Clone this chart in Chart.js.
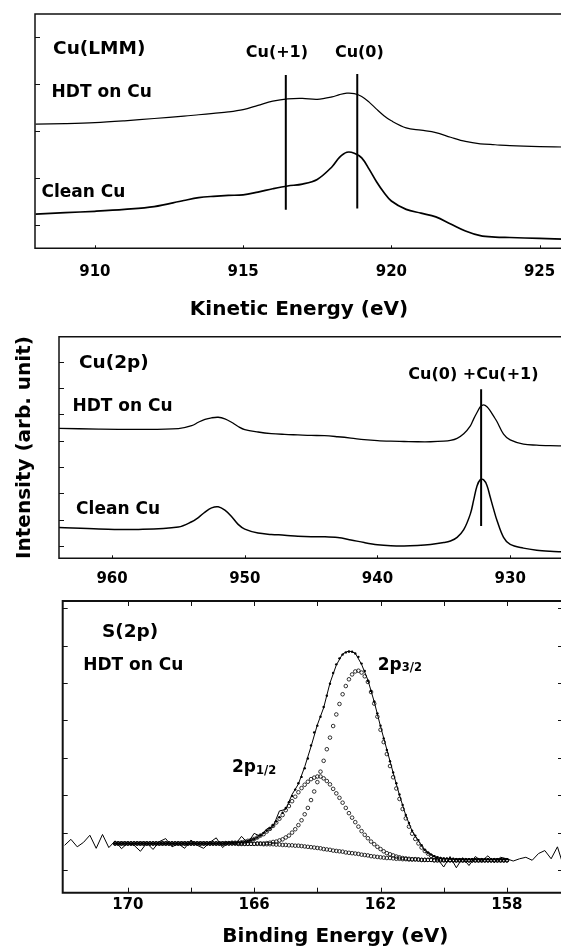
<!DOCTYPE html>
<html><head><meta charset="utf-8">
<script src="https://cdn.jsdelivr.net/npm/chart.js@4.4.1/dist/chart.umd.min.js"></script>
<style>
html,body{margin:0;padding:0;background:#fff;overflow:hidden;width:561px;height:952px;}
#wrap{position:relative;width:561px;height:952px;overflow:hidden;background:#fff;}
canvas{position:absolute;left:0;}
</style></head><body>
<div id="wrap">
<canvas id="c1" width="575" height="325" style="top:0px"></canvas>
<canvas id="c2" width="575" height="275" style="top:325px"></canvas>
<canvas id="c3" width="620" height="362" style="top:590px"></canvas>
</div>
<script>
// ---------- Panel 1 : Cu(LMM) ----------
const p1Energy = [908, 909, 910, 911, 912, 913, 913.5, 914, 914.5, 915, 915.5, 916, 916.5, 917, 917.5, 918, 918.25, 918.5, 918.75, 919, 919.25, 919.5, 919.75, 920, 920.5, 921, 921.5, 922, 922.5, 923, 923.5, 924, 925, 926];
const p1Hdt = [2.15, 2.16, 2.18, 2.22, 2.27, 2.32, 2.35, 2.38, 2.41, 2.46, 2.55, 2.64, 2.69, 2.70, 2.68, 2.73, 2.78, 2.81, 2.80, 2.74, 2.62, 2.47, 2.33, 2.22, 2.07, 2.02, 1.97, 1.87, 1.78, 1.73, 1.71, 1.69, 1.67, 1.66];
const p1Clean = [0.23, 0.26, 0.29, 0.33, 0.39, 0.52, 0.58, 0.61, 0.63, 0.64, 0.70, 0.77, 0.83, 0.87, 0.97, 1.24, 1.44, 1.55, 1.53, 1.43, 1.19, 0.92, 0.69, 0.51, 0.33, 0.25, 0.17, 0.02, -0.13, -0.23, -0.26, -0.27, -0.29, -0.31];
const p1MarkerEnergy = [916.44, 918.85];
const p1MarkerLow = [0.32, 0.35];
const p1MarkerHigh = [3.20, 3.22];
const p1XTicks = [910, 915, 920, 925];
const p1YTicks = [0, 1, 2, 3, 4];

// ---------- Panel 2 : Cu(2p) ----------
const p2Energy = [964, 961, 958, 955, 954, 953.5, 953, 952.5, 952, 951.5, 951, 950.5, 950, 949, 948, 947, 946, 945, 944, 943, 942, 941, 940, 939, 938, 937, 936, 935, 934.5, 934, 933.5, 933, 932.75, 932.5, 932.25, 932, 931.75, 931.5, 931.25, 931, 930.5, 930, 929, 928, 927, 926];
const p2Hdt = [4.47, 4.44, 4.43, 4.46, 4.57, 4.70, 4.81, 4.87, 4.89, 4.83, 4.70, 4.54, 4.42, 4.33, 4.27, 4.24, 4.22, 4.20, 4.19, 4.15, 4.10, 4.04, 4.00, 3.98, 3.97, 3.96, 3.96, 3.98, 4.01, 4.09, 4.26, 4.56, 4.83, 5.07, 5.29, 5.36, 5.29, 5.13, 4.93, 4.73, 4.25, 4.03, 3.87, 3.83, 3.81, 3.80];
const p2Clean = [0.70, 0.65, 0.63, 0.72, 0.92, 1.08, 1.29, 1.45, 1.49, 1.36, 1.12, 0.82, 0.64, 0.49, 0.44, 0.41, 0.37, 0.35, 0.35, 0.32, 0.23, 0.13, 0.05, 0.01, 0.00, 0.02, 0.06, 0.13, 0.19, 0.33, 0.62, 1.22, 1.75, 2.28, 2.52, 2.51, 2.30, 1.85, 1.40, 0.98, 0.33, 0.06, -0.08, -0.16, -0.20, -0.22];
const p2MarkerEnergy = [932.19];
const p2MarkerLow = [0.76];
const p2MarkerHigh = [5.95];
const p2XTicks = [960, 950, 940, 930];
const p2YTicks = [0, 1, 2, 3, 4, 5, 6, 7];

// ---------- Panel 3 : S(2p) ----------
const p3RawEnergy = [172.0,171.8,171.6,171.4,171.2,171.0,170.8,170.6,170.4,170.2,170.0,169.8,169.6,169.4,169.2,169.0,168.8,168.6,168.4,168.2,168.0,167.8,167.6,167.4,167.2,167.0,
  166.8,166.6,166.4,166.2,166.0,165.8,165.6,165.4,165.2,165.0,164.8,164.6,164.4,164.2,164.0,163.8,163.6,163.4,163.2,163.0,162.8,162.6,162.4,162.2,162.0,161.8,161.6,161.4,161.2,161.0,160.8,160.6,160.4,160.2,160.0,
  159.8,159.6,159.4,159.2,159.0,158.8,158.6,158.4,158.2,158.0,157.8,157.6,157.4,157.2,157.0,156.8,156.6,156.4,156.2,156.0,155.8,155.6,155.4,155.2,155.0];
const p3Raw = [0.66,0.82,0.62,0.74,0.93,0.58,0.95,0.60,0.78,0.57,0.72,0.66,0.50,0.72,0.55,0.76,0.84,0.62,0.70,0.58,0.80,0.66,0.58,0.74,0.86,0.60,
  0.75,0.68,0.90,0.72,0.98,0.90,1.10,1.16,1.58,1.62,2.02,2.30,2.76,3.30,3.88,4.34,5.00,5.48,5.78,5.86,5.80,5.50,5.08,4.50,3.84,3.22,2.60,2.00,1.46,1.04,0.78,0.52,0.42,0.30,0.08,
  0.36,0.06,0.33,0.12,0.36,0.24,0.38,0.20,0.34,0.30,0.24,0.30,0.34,0.26,0.44,0.52,0.30,0.62,0.08,0.55,0.45,0.50,0.40,0.48,0.42];
const p3FitEnergy = [170.4,170.3,170.2,170.1,170.0,169.9,169.8,169.7,169.6,169.5,169.4,169.3,169.2,169.1,169.0,168.9,168.8,168.7,168.6,168.5,168.4,168.3,168.2,168.1,168.0,167.9,167.8,167.7,167.6,167.5,167.4,167.3,167.2,167.1,167.0,
  166.9,166.8,166.7,166.6,166.5,166.4,166.3,166.2,166.1,166.0,165.9,165.8,165.7,165.6,165.5,165.4,165.3,165.2,165.1,165.0,164.9,164.8,164.7,164.6,164.5,164.4,164.3,164.2,164.1,164.0,
  163.9,163.8,163.7,163.6,163.5,163.4,163.3,163.2,163.1,163.0,162.9,162.8,162.7,162.6,162.5,162.4,162.3,162.2,162.1,162.0,161.9,161.8,161.7,161.6,161.5,161.4,161.3,161.2,161.1,161.0,
  160.9,160.8,160.7,160.6,160.5,160.4,160.3,160.2,160.1,160.0,159.9,159.8,159.7,159.6,159.5,159.4,159.3,159.2,159.1,159.0,158.9,158.8,158.7,158.6,158.5,158.4,158.3,158.2,158.1,158.0];
const p3Envelope = [0.71,0.71,0.71,0.71,0.71,0.71,0.71,0.71,0.71,0.71,0.71,0.71,0.71,0.71,0.71,0.71,0.71,0.71,0.71,0.71,0.71,0.71,0.71,0.71,0.71,0.71,0.71,0.71,0.71,0.71,0.71,0.71,0.71,0.71,0.71,
  0.72,0.72,0.73,0.73,0.74,0.75,0.76,0.78,0.80,0.83,0.87,0.93,0.99,1.05,1.11,1.20,1.30,1.41,1.53,1.66,1.81,1.98,2.15,2.32,2.49,2.72,2.98,3.33,3.68,3.86,
  4.10,4.36,4.66,4.98,5.27,5.50,5.66,5.76,5.82,5.84,5.84,5.79,5.70,5.52,5.32,5.06,4.79,4.51,4.19,3.86,3.52,3.21,2.91,2.61,2.32,2.02,1.74,1.47,1.26,1.05,
  0.92,0.80,0.66,0.54,0.46,0.41,0.37,0.34,0.32,0.31,0.31,0.30,0.30,0.29,0.29,0.29,0.29,0.29,0.29,0.29,0.29,0.29,0.29,0.29,0.29,0.29,0.29,0.29,0.29,0.29];
const p3Comp32 = [0.71,0.71,0.71,0.71,0.71,0.71,0.71,0.71,0.71,0.71,0.71,0.71,0.71,0.71,0.71,0.71,0.71,0.71,0.71,0.71,0.71,0.71,0.71,0.71,0.71,0.71,0.71,0.71,0.71,0.71,0.71,0.71,0.71,0.71,0.71,
  0.71,0.71,0.71,0.71,0.70,0.70,0.70,0.70,0.70,0.70,0.71,0.71,0.71,0.72,0.73,0.75,0.76,0.79,0.82,0.87,0.92,1.00,1.09,1.20,1.33,1.49,1.66,1.87,2.10,2.35,
  2.63,2.92,3.23,3.54,3.85,4.16,4.44,4.70,4.92,5.10,5.23,5.31,5.33,5.28,5.18,5.03,4.76,4.45,4.10,3.75,3.42,3.10,2.78,2.48,2.18,1.90,1.63,1.38,1.16,0.97,
  0.83,0.71,0.60,0.51,0.44,0.38,0.34,0.31,0.29,0.28,0.27,0.27,0.26,0.26,0.26,0.26,0.26,0.26,0.26,0.26,0.26,0.26,0.26,0.26,0.26,0.26,0.26,0.26,0.26,0.26];
const p3Comp12 = [0.71,0.71,0.71,0.71,0.71,0.71,0.71,0.71,0.71,0.71,0.71,0.71,0.71,0.71,0.71,0.71,0.71,0.71,0.71,0.71,0.71,0.71,0.71,0.71,0.71,0.71,0.71,0.71,0.71,0.71,0.71,0.71,0.71,0.71,0.71,
  0.72,0.72,0.73,0.73,0.73,0.74,0.76,0.78,0.80,0.83,0.87,0.92,0.96,1.03,1.10,1.18,1.27,1.37,1.47,1.60,1.71,1.84,1.96,2.08,2.19,2.28,2.36,2.43,2.47,2.50,
  2.50,2.45,2.38,2.29,2.17,2.05,1.93,1.80,1.66,1.52,1.40,1.28,1.16,1.04,0.94,0.85,0.76,0.69,0.62,0.56,0.50,0.45,0.42,0.39,0.36,0.34,0.32,0.31,0.30,0.29,
  0.29,0.28,0.27,0.27,0.27,0.27,0.26,0.26,0.26,0.26,0.26,0.26,0.26,0.26,0.26,0.26,0.26,0.26,0.26,0.26,0.26,0.26,0.26,0.26,0.26,0.26,0.26,0.26,0.26,0.26];
const p3Background = [0.71,0.71,0.71,0.71,0.71,0.71,0.71,0.71,0.71,0.71,0.71,0.71,0.71,0.71,0.71,0.71,0.71,0.71,0.71,0.71,0.71,0.71,0.71,0.71,0.71,0.71,0.71,0.71,0.71,0.71,0.71,0.71,0.71,0.71,0.71,
  0.71,0.71,0.71,0.71,0.70,0.70,0.70,0.70,0.70,0.70,0.70,0.70,0.69,0.69,0.69,0.69,0.68,0.68,0.67,0.67,0.66,0.66,0.65,0.65,0.64,0.63,0.62,0.61,0.60,0.59,
  0.58,0.56,0.55,0.54,0.52,0.51,0.50,0.49,0.47,0.46,0.45,0.44,0.43,0.41,0.40,0.39,0.37,0.36,0.35,0.34,0.33,0.32,0.32,0.31,0.30,0.30,0.29,0.29,0.28,0.28,
  0.28,0.28,0.27,0.27,0.27,0.27,0.26,0.26,0.26,0.26,0.26,0.26,0.26,0.26,0.26,0.26,0.26,0.26,0.26,0.26,0.26,0.26,0.26,0.26,0.26,0.26,0.26,0.26,0.26,0.26];
const p3XTicks = [170, 168, 166, 164, 162, 160, 158, 156];
const p3XLabels = [170, 166, 162, 158];
const p3YTicks = [0, 1, 2, 3, 4, 5, 6, 7];

// ---------- helpers ----------
const FONT = "'DejaVu Sans', sans-serif";
Chart.defaults.font.family = FONT;
Chart.defaults.color = '#000';
const pts = (xs, ys) => xs.map((x, i) => ({x: x, y: ys[i]}));
const markerSet = (e, lo, hi) => e.map((x, i) => ({
  data: [{x: x, y: lo[i]}, {x: x, y: hi[i]}], showLine: true, borderColor: '#000',
  borderWidth: 2, pointRadius: 0, tension: 0
}));
const curve = (xs, ys, w) => ({data: pts(xs, ys), showLine: true, borderColor: '#000', borderWidth: w, pointRadius: 0, tension: 0.35});

function decor(cfg) {
  return {
    id: 'decor',
    afterDatasetsDraw(chart) {
      const ctx = chart.ctx, a = chart.chartArea, xs = chart.scales.x, ys = chart.scales.y;
      ctx.save();
      ctx.strokeStyle = '#111';
      ctx.lineWidth = cfg.frameWidth;
      ctx.beginPath();
      ctx.moveTo(a.left, a.top); ctx.lineTo(a.right, a.top);
      ctx.moveTo(a.left, a.bottom); ctx.lineTo(a.right, a.bottom);
      ctx.moveTo(a.left, a.top - cfg.frameWidth / 2); ctx.lineTo(a.left, a.bottom + cfg.frameWidth / 2);
      ctx.stroke();
      ctx.lineWidth = 1;
      ctx.beginPath();
      cfg.yTicks.forEach(v => {
        const y = Math.round(ys.getPixelForValue(v)) + 0.5;
        ctx.moveTo(a.left, y); ctx.lineTo(a.left + cfg.yTickLen, y);
        if (cfg.rightX) { ctx.moveTo(cfg.rightX, y); ctx.lineTo(cfg.rightX - cfg.yTickLen, y); }
      });
      cfg.bottomTicks.forEach(v => {
        const x = Math.round(xs.getPixelForValue(v)) + 0.5;
        ctx.moveTo(x, a.bottom); ctx.lineTo(x, a.bottom - cfg.xTickLen);
      });
      cfg.topTicks.forEach(v => {
        const x = Math.round(xs.getPixelForValue(v)) + 0.5;
        ctx.moveTo(x, a.top); ctx.lineTo(x, a.top + cfg.xTickLen);
      });
      ctx.stroke();
      ctx.fillStyle = '#000';
      ctx.textBaseline = 'middle';
      cfg.labels.forEach(l => {
        const x = xs.getPixelForValue(l.x), y = ys.getPixelForValue(l.y);
        ctx.font = 'bold ' + l.size + 'px ' + FONT;
        ctx.textAlign = l.align;
        ctx.fillText(l.text, x, y);
        if (l.sub) {
          const w = ctx.measureText(l.text).width;
          ctx.font = 'bold ' + l.subSize + 'px ' + FONT;
          ctx.textAlign = 'left';
          ctx.fillText(l.sub, x + w, y + l.subDy);
        }
      });
      ctx.restore();
    }
  };
}

function xAxis(min, max, reverse, tickVals, labelVals, height, pad, title) {
  return {
    type: 'linear', min: min, max: max, reverse: reverse,
    afterBuildTicks: s => { s.ticks = tickVals.map(v => ({value: v})); },
    afterFit: s => { s.height = height; s.paddingLeft = 0; s.paddingRight = 0; },
    grid: {display: false, drawTicks: false}, border: {display: false},
    ticks: {padding: pad, autoSkip: false, maxRotation: 0, color: '#000',
      font: {size: 15, weight: 'bold'},
      callback: v => (labelVals.includes(v) ? String(v) : '')},
    title: {display: !!title, text: title || '', color: '#000', padding: 0, font: {size: 20, weight: 'bold'}}
  };
}
const baseOpts = {responsive: false, animation: false, devicePixelRatio: 1, events: [],
  plugins: {legend: {display: false}, tooltip: {enabled: false}}};

// Panel 1
new Chart(document.getElementById('c1'), {
  type: 'scatter',
  data: {datasets: [curve(p1Energy, p1Hdt, 1.2), curve(p1Energy, p1Clean, 1.7)].concat(markerSet(p1MarkerEnergy, p1MarkerLow, p1MarkerHigh))},
  options: Object.assign({}, baseOpts, {
    layout: {padding: {left: 35, right: 12, top: 14, bottom: 3}},
    scales: {
      x: xAxis(907.98, 925.79, false, p1XTicks, p1XTicks, 73.7, 14.4, 'Kinetic Energy (eV)'),
      y: {type: 'linear', display: false, min: -0.5, max: 4.5}
    }
  }),
  plugins: [decor({frameWidth: 1.5, yTicks: p1YTicks, yTickLen: 5, bottomTicks: p1XTicks, topTicks: [], xTickLen: 3,
    labels: [
      {text: 'Cu(LMM)', x: 908.59, y: 3.74, align: 'left', size: 18.5},
      {text: 'HDT on Cu', x: 908.54, y: 2.83, align: 'left', size: 17},
      {text: 'Clean Cu', x: 908.20, y: 0.68, align: 'left', size: 17},
      {text: 'Cu(+1)', x: 916.14, y: 3.67, align: 'center', size: 16},
      {text: 'Cu(0)', x: 918.92, y: 3.68, align: 'center', size: 16}
    ]})]
});

// Panel 2
new Chart(document.getElementById('c2'), {
  type: 'scatter',
  data: {datasets: [curve(p2Energy, p2Hdt, 1.3), curve(p2Energy, p2Clean, 1.5)].concat(markerSet(p2MarkerEnergy, p2MarkerLow, p2MarkerHigh))},
  options: Object.assign({}, baseOpts, {
    layout: {padding: {left: 13, right: 12, top: 11.7, bottom: 3}},
    scales: {
      x: xAxis(926.02, 964.0, true, p2XTicks, p2XTicks, 38.7, 12, null),
      y: {type: 'linear', display: true, min: -0.467, max: 7.95,
        ticks: {display: false}, grid: {display: false, drawTicks: false}, border: {display: false},
        afterFit: s => { s.width = 46; s.paddingTop = 0; s.paddingBottom = 0; },
        title: {display: true, text: 'Intensity (arb. unit)', color: '#000', padding: 0, font: {size: 20, weight: 'bold'}}}
    }
  }),
  plugins: [decor({frameWidth: 1.5, yTicks: p2YTicks, yTickLen: 5, bottomTicks: p2XTicks, topTicks: [], xTickLen: 3,
    labels: [
      {text: 'Cu(2p)', x: 962.49, y: 6.94, align: 'left', size: 18.5},
      {text: 'HDT on Cu', x: 962.99, y: 5.29, align: 'left', size: 17},
      {text: 'Clean Cu', x: 962.71, y: 1.37, align: 'left', size: 17},
      {text: 'Cu(0) +Cu(+1)', x: 932.77, y: 6.49, align: 'center', size: 16}
    ]})]
});

// Panel 3
const openCircles = (ys) => ({data: pts(p3FitEnergy, ys), showLine: false, pointRadius: 1.8, pointBorderWidth: 0.8,
  pointBorderColor: '#000', borderColor: '#000', pointBackgroundColor: 'rgba(255,255,255,0)', backgroundColor: 'rgba(255,255,255,0)'});
new Chart(document.getElementById('c3'), {
  type: 'scatter',
  data: {datasets: [
    {data: pts(p3RawEnergy, p3Raw), showLine: true, borderColor: '#000', borderWidth: 1, pointRadius: 0, tension: 0},
    {data: pts(p3FitEnergy, p3Envelope), showLine: false, pointRadius: 1.2, pointBorderWidth: 0, backgroundColor: '#000', pointBackgroundColor: '#000'},
    openCircles(p3Comp32),
    openCircles(p3Comp12),
    openCircles(p3Background)
  ]},
  options: Object.assign({}, baseOpts, {
    layout: {padding: {left: 62.7, right: 12, top: 11, bottom: 3}},
    scales: {
      x: xAxis(154.80, 172.06, true, p3XTicks, p3XLabels, 56.3, 3.3, 'Binding Energy (eV)'),
      y: {type: 'linear', display: false, min: -0.607, max: 7.194}
    }
  }),
  plugins: [decor({frameWidth: 2, yTicks: p3YTicks, yTickLen: 5, rightX: 563, bottomTicks: p3XTicks, topTicks: p3XTicks, xTickLen: 5,
    labels: [
      {text: 'S(2p)', x: 170.82, y: 6.37, align: 'left', size: 18.5},
      {text: 'HDT on Cu', x: 171.41, y: 5.46, align: 'left', size: 17},
      {text: '2p', x: 166.70, y: 2.73, align: 'left', size: 17, sub: '1/2', subSize: 11.5, subDy: 3},
      {text: '2p', x: 162.09, y: 5.48, align: 'left', size: 17, sub: '3/2', subSize: 11.5, subDy: 3}
    ]})]
});
</script></body></html>
